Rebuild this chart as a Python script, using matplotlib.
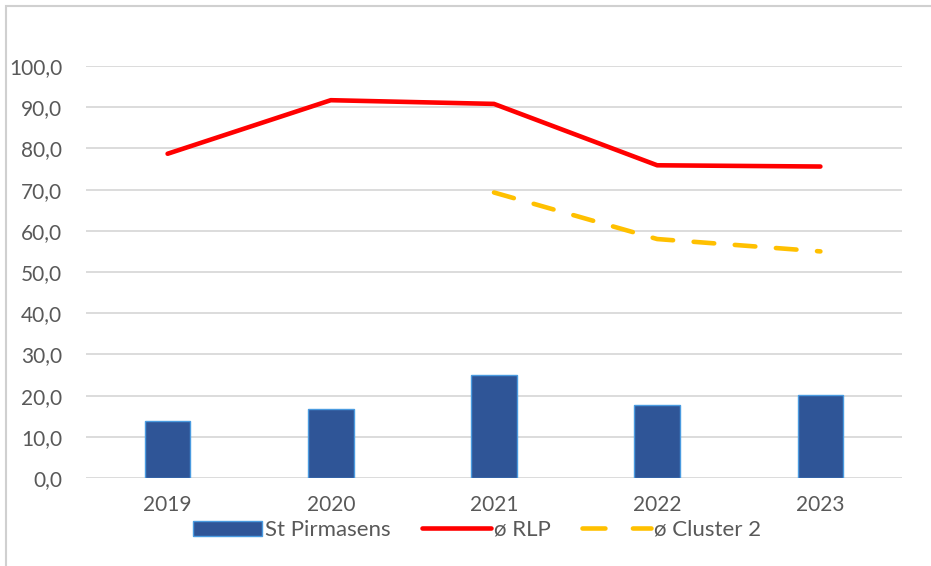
import matplotlib
matplotlib.use("Agg")
import matplotlib.pyplot as plt
from matplotlib.patches import Rectangle
from matplotlib.ticker import FuncFormatter, MultipleLocator

years = ["2019", "2020", "2021", "2022", "2023"]
st_pirmasens = [13.8, 16.8, 25.0, 17.7, 20.1]
rlp = [78.7, 91.7, 90.8, 75.9, 75.6]
cluster2_years = ["2021", "2022", "2023"]
cluster2 = [69.3, 58.0, 55.0]

plt.rcParams['font.family'] = ['Lato', 'DejaVu Sans']
TXT = '#595959'

fig = plt.figure(figsize=(9.31, 5.66), dpi=100)
ax = fig.add_axes([86 / 931, (566 - 478) / 566, (902 - 86) / 931, (478 - 66) / 566])

x = list(range(len(years)))
xc = [years.index(y) for y in cluster2_years]

b = ax.bar(x, st_pirmasens, width=0.28, color='#2F5597', edgecolor='#4A9BE0',
           linewidth=1.0, label='St Pirmasens', zorder=3)
l1, = ax.plot(x, rlp, color='#FF0000', linewidth=3.3, solid_capstyle='round',
              solid_joinstyle='round', label='ø RLP', zorder=4)
l2, = ax.plot(xc, cluster2, color='#FFC000', linewidth=3.3, linestyle=(0, (4.5, 4.5)),
              dash_capstyle='round', label='ø Cluster 2', zorder=4)

ax.set_xlim(-0.5, len(years) - 0.5)
ax.set_ylim(0, 100)
ax.yaxis.set_major_locator(MultipleLocator(10))
ax.yaxis.set_major_formatter(FuncFormatter(lambda v, p: f"{v:.1f}".replace('.', ',')))
ax.set_xticks(x)
ax.set_xticklabels(years)
ax.grid(axis='y', color='#D9D9D9', linewidth=1.3, zorder=0)
ax.set_axisbelow(True)
for s in ax.spines.values():
    s.set_visible(False)
ax.tick_params(axis='both', length=0, labelsize=15, labelcolor=TXT)
ax.tick_params(axis='y', pad=17)
ax.tick_params(axis='x', pad=12)
for ln in ax.get_lines():
    ln.set_clip_on(False)

leg = fig.legend(handles=[b, l1, l2], labels=['St Pirmasens', 'ø RLP', 'ø Cluster 2'],
                 loc='center', bbox_to_anchor=(477 / 931, (566 - 530) / 566), ncol=3,
                 frameon=False, fontsize=16, labelcolor=TXT, handlelength=3.1,
                 handleheight=0.65, handletextpad=0.15, columnspacing=1.4,
                 borderaxespad=0)
leg.get_lines()[1].set_linestyle((0, (5, 6)))

fig.patches.append(Rectangle((6 / 931, -0.1), 1.2, (566 - 6) / 566 + 0.1,
                             transform=fig.transFigure, fill=False,
                             edgecolor='#D0D0D0', linewidth=1.5))

fig.savefig('out.png', dpi=100)
